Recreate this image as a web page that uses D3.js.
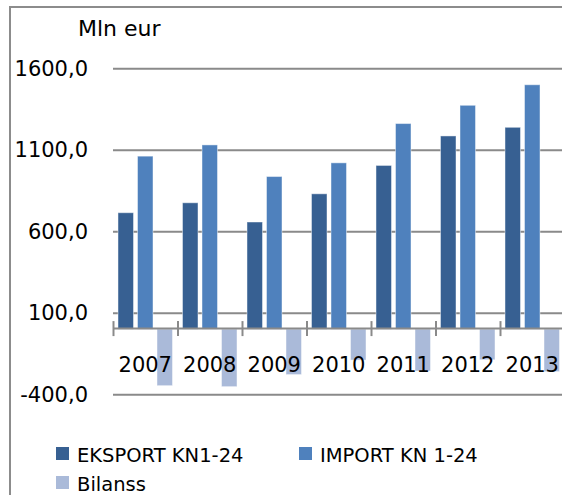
<!DOCTYPE html>
<html>
<head>
<meta charset="utf-8">
<script src="https://cdn.jsdelivr.net/npm/d3@7"></script>
<style>
  body { margin: 0; background: #fff; }
  svg { display: block; font-family: "DejaVu Sans", sans-serif; }
</style>
</head>
<body>
<script>
// data
const years = ['2007', '2008', '2009', '2010', '2011', '2012', '2013'];
const seriesNames = ['EKSPORT KN1-24', 'IMPORT KN 1-24', 'Bilanss'];
const eksport = [714, 775, 657, 830, 1004, 1185, 1238];
const imports = [1061, 1130, 936, 1020, 1261, 1373, 1499];
const bilanss = [-347, -353, -279, -190, -257, -188, -261];
const yTicks = [-400, 100, 600, 1100, 1600];
const colors = ['#376092', '#4f81bd', '#aabad9'];

const W = 562, H = 495;
const plot = { left: 113, right: 564.5, top: 68.3, bottom: 394.3 };

const svg = d3.select('body').append('svg')
  .attr('width', W)
  .attr('height', H);

// chart frame (cut off at right and bottom)
svg.append('rect')
  .attr('x', 10).attr('y', 7)
  .attr('width', W + 20).attr('height', H + 20)
  .attr('fill', 'none')
  .attr('stroke', '#8c8c8c')
  .attr('stroke-width', 2);

// scales
const x = d3.scaleBand()
  .domain(years)
  .range([plot.left, plot.right]);
const xInner = d3.scaleBand()
  .domain(seriesNames)
  .range([0, x.bandwidth()])
  .paddingInner(0.205)
  .paddingOuter(0.256);
const y = d3.scaleLinear()
  .domain([-400, 1600])
  .range([plot.bottom, plot.top]);

const locale = d3.formatLocale({ decimal: ',', thousands: '', grouping: [3], currency: ['', ''], minus: '-' });
const fmt = locale.format('.1f');

// y axis with gridlines
const yAxis = d3.axisLeft(y)
  .tickValues(yTicks)
  .tickFormat(fmt)
  .tickSizeInner(-(W - plot.left))
  .tickSizeOuter(0)
  .tickPadding(25);

const gy = svg.append('g')
  .attr('transform', `translate(${plot.left},0)`)
  .call(yAxis);
gy.select('.domain').remove();
gy.selectAll('.tick line').attr('stroke', '#8a8a8a').attr('stroke-width', 2);
gy.selectAll('.tick text')
  .attr('fill', '#000')
  .style('font-size', '21px')
  .style('font-family', '"DejaVu Sans", sans-serif');

// bars
const table = years.map((yr, i) => ({
  year: yr,
  values: [eksport[i], imports[i], bilanss[i]]
}));

const groups = svg.selectAll('.year')
  .data(table)
  .enter()
  .append('g')
  .attr('class', 'year')
  .attr('transform', d => `translate(${x(d.year)},0)`);

groups.selectAll('rect')
  .data(d => d.values.map((v, j) => ({ name: seriesNames[j], value: v, j: j })))
  .enter()
  .append('rect')
  .attr('x', d => xInner(d.name))
  .attr('width', xInner.bandwidth())
  .attr('y', d => y(Math.max(0, d.value)))
  .attr('height', d => Math.abs(y(d.value) - y(0)))
  .attr('fill', d => colors[d.j])
  .attr('stroke', 'rgba(255,255,255,0.45)')
  .attr('stroke-width', 1);

// category axis at zero
const xEdges = d3.scaleLinear()
  .domain([0, years.length])
  .range([plot.left, plot.right]);
const gx = svg.append('g')
  .attr('transform', `translate(0,${y(0) - 1})`)
  .call(d3.axisBottom(xEdges)
    .ticks(years.length)
    .tickFormat('')
    .tickSizeOuter(0));
gx.select('.domain').attr('stroke', '#8a8a8a').attr('stroke-width', 2);
gx.selectAll('.tick line')
  .attr('y1', -7).attr('y2', 8)
  .attr('stroke', '#8a8a8a').attr('stroke-width', 2);

// year labels
svg.selectAll('.yearLabel')
  .data(years)
  .enter()
  .append('text')
  .attr('x', d => x(d) + x.bandwidth() / 2)
  .attr('y', 372)
  .attr('text-anchor', 'middle')
  .style('font-size', '21px')
  .text(d => d);

// unit title
svg.append('text')
  .attr('x', 78).attr('y', 36)
  .style('font-size', '22px')
  .text('Mln eur');

// legend
const legendPos = [[56, 447], [299, 447], [56, 476]];
const lg = svg.selectAll('.legend')
  .data(seriesNames)
  .enter()
  .append('g')
  .attr('class', 'legend')
  .attr('transform', (d, i) => `translate(${legendPos[i][0]},${legendPos[i][1]})`);
lg.append('rect')
  .attr('width', 13).attr('height', 13)
  .attr('fill', (d, i) => colors[i]);
lg.append('text')
  .attr('x', 21).attr('y', 14.5)
  .style('font-size', '19.5px')
  .text(d => d);
</script>
</body>
</html>
